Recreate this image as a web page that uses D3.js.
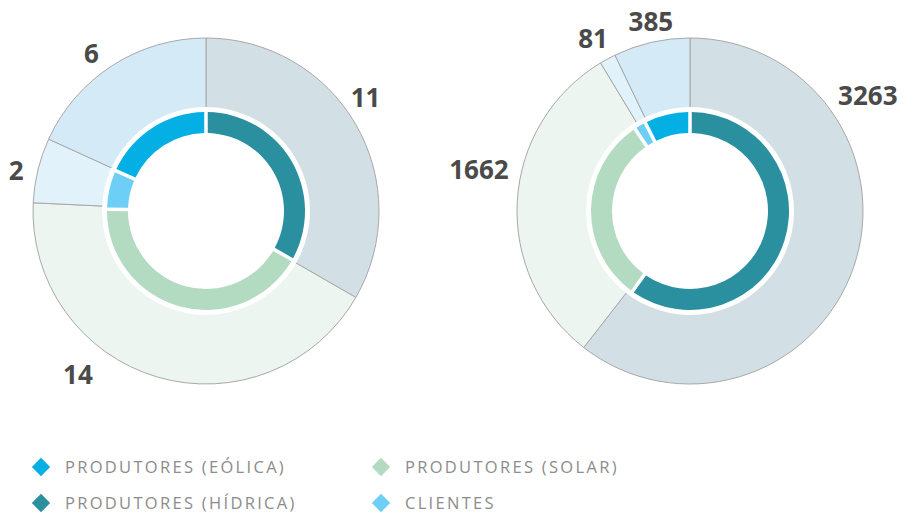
<!DOCTYPE html>
<meta charset="utf-8">
<title>Produtores e clientes</title>
<style>
  body { margin: 0; background: #fff; }
  .num { font-family: "Open Sans", sans-serif; font-weight: 700; font-size: 26px; fill: #4a4a4a; }
  .leg { font-family: "Open Sans", sans-serif; font-weight: 400; font-size: 16.5px; fill: #8c8c8c; letter-spacing: 2.3px; }
</style>
<body>
<script src="https://d3js.org/d3.v7.min.js"></script>
<script>

// data: slice order clockwise from 12 o'clock
const keys = ["hidrica", "solar", "clientes", "eolica"];
const valuesLeft = [11, 14, 2, 6];
const valuesRight = [3263, 1662, 81, 385];

const legendKeys = ["eolica", "hidrica", "solar", "clientes"];
const legendLabels = ["PRODUTORES (EÓLICA)", "PRODUTORES (HÍDRICA)", "PRODUTORES (SOLAR)", "CLIENTES"];

// colours
const innerColor = {hidrica: "#2a8f9e", solar: "#b3dbc2", clientes: "#6dcff5", eolica: "#04afe4"};
const outerColor = {hidrica: "#d2e0e6", solar: "#ecf5f0", clientes: "#e1f2fa", eolica: "#d4eaf7"};

// layout
const W = 903, H = 513;
const R = 173, ringOut = 99, ringIn = 78, whiteR = 104;
const charts = [
  {cx: 206, cy: 211, values: valuesLeft,
   labelAt: [[54.5, 196], [218, 208], [282, 194], [324, 195]]},
  {cx: 690, cy: 211, values: valuesRight,
   labelAt: [[57, 212], [281, 215], [330.7, 198], [348.3, 193]]}
];

const svg = d3.select("body").append("svg")
    .attr("width", W).attr("height", H);

const pie = d3.pie().sort(null).value(d => d);
const outerArc = d3.arc().innerRadius(0).outerRadius(R);
const innerArc = d3.arc().innerRadius(ringIn).outerRadius(ringOut);

charts.forEach(c => {
  const g = svg.append("g").attr("transform", `translate(${c.cx},${c.cy})`);
  const arcs = pie(c.values);

  g.selectAll("path.outer").data(arcs).join("path")
      .attr("class", "outer")
      .attr("d", outerArc)
      .attr("fill", (d, i) => outerColor[keys[i]])
      .attr("stroke", "#a8a8a8")
      .attr("stroke-width", 1);

  g.append("circle").attr("r", whiteR).attr("fill", "#fff");

  const innerPie = pie.padAngle(0.028);
  g.selectAll("path.inner").data(innerPie(c.values)).join("path")
      .attr("class", "inner")
      .attr("d", innerArc)
      .attr("fill", (d, i) => innerColor[keys[i]]);
  pie.padAngle(0);

  g.selectAll("text.num").data(c.values).join("text")
      .attr("class", "num")
      .attr("text-anchor", "middle")
      .attr("dy", "0.36em")
      .attr("x", (d, i) => c.labelAt[i][1] * Math.sin(c.labelAt[i][0] * Math.PI / 180))
      .attr("y", (d, i) => -c.labelAt[i][1] * Math.cos(c.labelAt[i][0] * Math.PI / 180))
      .text(d => d);
});

// legend
const legX = d3.scaleOrdinal().domain([0, 1]).range([41, 381]);
const legY = d3.scaleOrdinal().domain([0, 1]).range([467, 503]);
const leg = svg.selectAll("g.legend").data(legendKeys).join("g")
    .attr("class", "legend")
    .attr("transform", (d, i) => `translate(${legX(Math.floor(i / 2))},${legY(i % 2)})`);

leg.append("rect")
    .attr("x", -6.5).attr("y", -6.5).attr("width", 13).attr("height", 13)
    .attr("transform", "rotate(45)")
    .attr("fill", d => innerColor[d]);

leg.append("text")
    .attr("class", "leg")
    .attr("x", 24)
    .attr("dy", "0.36em")
    .text((d, i) => legendLabels[i]);

</script>
</body>
